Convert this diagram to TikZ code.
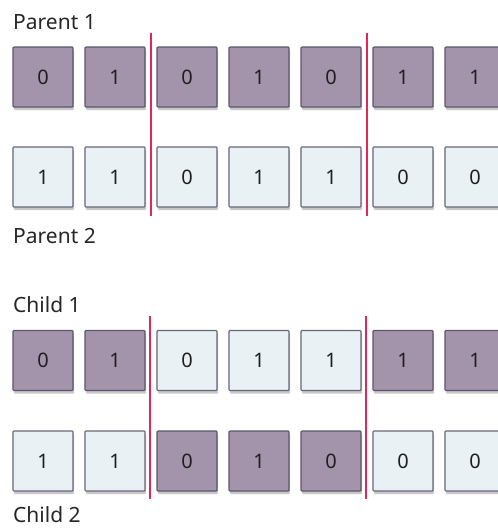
\documentclass[tikz,border=0pt]{standalone}
\usepackage{fontspec}
\setmainfont{Noto Sans}
\usetikzlibrary{shadows}
\definecolor{pfill}{HTML}{A394AC}
\definecolor{pdraw}{HTML}{5A566A}
\definecolor{lfill}{HTML}{EAF1F4}
\definecolor{ldraw}{HTML}{66667A}
\definecolor{cut}{HTML}{E5245A}
\tikzset{
  gene/.style={minimum width=60pt, minimum height=60pt, inner sep=0pt, line width=1.1pt,
    rounded corners=0.8pt,
    font=\fontsize{20pt}{20pt}\selectfont, text=black!88,
    drop shadow={shadow xshift=1pt, shadow yshift=-3pt, opacity=0.22, fill=black}},
  dark/.style={gene, fill=pfill, draw=pdraw},
  light/.style={gene, fill=lfill, draw=ldraw},
  lbl/.style={anchor=base west, inner sep=0pt, font=\fontsize{21pt}{21pt}\selectfont, text=black!85},
  cutline/.style={draw=cut, line width=2.2pt}
}
\begin{document}
\begin{tikzpicture}[x=1pt,y=-1pt]
\useasboundingbox (0,0) rectangle (498,528);
\begin{scope}
\clip (0,0) rectangle (498,528);
% labels
\node[lbl] (lp1) at (13,29) {Parent 1};
\node[lbl] (lp2) at (13,243) {Parent 2};
\node[lbl] (lc1) at (13,312) {Child 1};
\node[lbl] (lc2) at (13,522) {Child 2};
% rows
\foreach \v/\s [count=\i from 0] in {0/dark,1/dark,0/dark,1/dark,0/dark,1/dark,1/dark}
  \node[\s] (a\i) at (43+72*\i,77) {\v};
\foreach \v/\s [count=\i from 0] in {1/light,1/light,0/light,1/light,1/light,0/light,0/light}
  \node[\s] (b\i) at (43+72*\i,177) {\v};
\foreach \v/\s [count=\i from 0] in {0/dark,1/dark,0/light,1/light,1/light,1/dark,1/dark}
  \node[\s] (c\i) at (43+72*\i,360.5) {\v};
\foreach \v/\s [count=\i from 0] in {1/light,1/light,0/dark,1/dark,0/dark,0/light,0/light}
  \node[\s] (d\i) at (43+72*\i,461) {\v};
% cut lines
\coordinate (t1) at (151,33);  \coordinate (u1) at (151,216);
\coordinate (t2) at (367,33);  \coordinate (u2) at (367,216);
\coordinate (t3) at (150,316); \coordinate (u3) at (150,499);
\coordinate (t4) at (366,316); \coordinate (u4) at (366,499);
\draw[cutline] (t1) -- (u1);
\draw[cutline] (t2) -- (u2);
\draw[cutline] (t3) -- (u3);
\draw[cutline] (t4) -- (u4);
\end{scope}
\end{tikzpicture}
\end{document}
